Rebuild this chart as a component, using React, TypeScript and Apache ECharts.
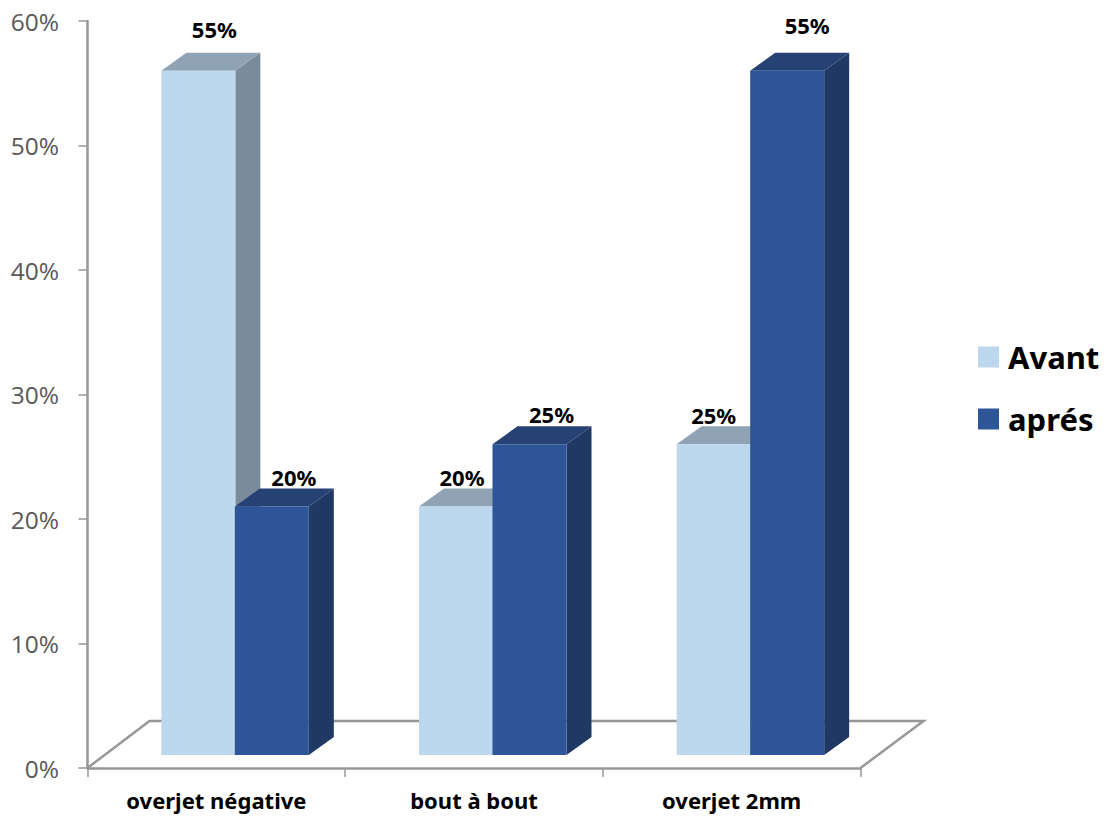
import React, { useEffect, useRef } from "react";
import * as echarts from "echarts";

const categories = ["overjet négative", "bout à bout", "overjet 2mm"];
const avant = [55, 20, 25];
const apres = [20, 25, 55];
const yTicksMax = 60;
const yInterval = 10;

// Manual data-label nudges (dx from the bar's front centre, dy above the bar's back edge)
const avantLabelNudge = [[16, -24], [6, -12], [0, -11]];
const apresLabelNudge = [[22, -12], [22, -12], [20, -28]];

const FONT = "'Noto Sans', sans-serif";
const AXIS = "#979797";
const BAR_W = 74;
const DX = 25;
const DY = 18;
const LIFT = 13;

function makeBar(offset: number, front: string, top: string, side: string, nudges: number[][]) {
  return (params: any, api: any) => {
    const idx = api.value(0);
    const val = api.value(1);
    const center = api.coord([idx, 0]);
    const head = api.coord([idx, val]);
    const x0 = center[0] + offset;
    const x1 = x0 + BAR_W;
    const yB = center[1] - LIFT;
    const yT = head[1] - LIFT + 0.5;
    const n = nudges[idx];
    return {
      type: "group",
      children: [
        {
          type: "polygon",
          shape: { points: [[x1, yT], [x1 + DX, yT - DY], [x1 + DX, yB - DY], [x1, yB]] },
          style: { fill: side },
        },
        {
          type: "polygon",
          shape: { points: [[x0, yT], [x0 + DX, yT - DY], [x1 + DX, yT - DY], [x1, yT]] },
          style: { fill: top },
        },
        {
          type: "rect",
          shape: { x: x0, y: yT, width: BAR_W, height: yB - yT },
          style: { fill: front },
        },
        {
          type: "text",
          z2: 50,
          style: {
            x: x0 + BAR_W / 2 + n[0],
            y: yT - DY + n[1],
            text: val + "%",
            fill: "#000000",
            font: `bold 22px ${FONT}`,
            align: "center",
            verticalAlign: "middle",
          },
        },
      ],
    };
  };
}

function renderFloor(params: any) {
  const c = params.coordSys;
  const l = c.x;
  const r = c.x + c.width;
  const b = c.y + c.height;
  return {
    type: "polyline",
    shape: { points: [[l, b], [l + 62, b - 47], [r + 63, b - 47], [r, b]] },
    style: { stroke: AXIS, lineWidth: 2.5, fill: "none" },
  };
}

export default function App() {
  const ref = useRef<HTMLDivElement>(null);
  useEffect(() => {
    const chart = echarts.init(ref.current!, undefined, { renderer: "svg" });
    chart.setOption({
      animation: false,
      backgroundColor: "#ffffff",
      grid: { left: 87.5, top: 21, width: 773, height: 747, containLabel: false },
      legend: {
        orient: "vertical",
        left: 978,
        top: 337,
        padding: 0,
        data: [{ name: "Avant" }, { name: "aprés" }],
        icon: "rect",
        itemWidth: 21,
        itemHeight: 21,
        itemGap: 22,
        selectedMode: false,
        textStyle: {
          fontFamily: FONT,
          fontWeight: "bold",
          fontSize: 31,
          color: "#000000",
          lineHeight: 40,
          padding: [0, 0, 0, 4],
        },
      },
      xAxis: {
        type: "category",
        data: categories,
        boundaryGap: true,
        axisLine: { lineStyle: { color: AXIS, width: 2.5 } },
        axisTick: { show: true, length: 9, alignWithLabel: false, lineStyle: { color: AXIS, width: 1.5 } },
        axisLabel: {
          margin: 21,
          fontFamily: FONT,
          fontWeight: "bold",
          fontSize: 22,
          color: "#000000",
        },
        splitLine: { show: false },
      },
      yAxis: {
        type: "value",
        min: 0,
        max: yTicksMax,
        interval: yInterval,
        axisLine: { show: true, lineStyle: { color: AXIS, width: 2.5 } },
        axisTick: { show: true, length: 9, lineStyle: { color: AXIS, width: 1.5 } },
        axisLabel: {
          margin: 28.5,
          formatter: "{value}%",
          fontFamily: "'Open Sans', sans-serif",
          fontSize: 24.5,
          color: "#595959",
        },
        splitLine: { show: false },
      },
      series: [
        {
          type: "custom",
          name: "floor",
          z: 1,
          silent: true,
          renderItem: renderFloor,
          data: [[0, 0]],
          encode: { x: 0, y: 1 },
        },
        {
          type: "custom",
          name: "Avant",
          z: 2,
          silent: true,
          itemStyle: { color: "#BDD7EE" },
          renderItem: makeBar(-55, "#BDD7EE", "#8FA3B5", "#7A8B9B", avantLabelNudge),
          data: avant.map((v, i) => [i, v]),
          encode: { x: 0, y: 1 },
        },
        {
          type: "custom",
          name: "aprés",
          z: 3,
          silent: true,
          itemStyle: { color: "#2E5597" },
          renderItem: makeBar(18.5, "#2E5597", "#264173", "#1F3864", apresLabelNudge),
          data: apres.map((v, i) => [i, v]),
          encode: { x: 0, y: 1 },
        },
      ],
    });
    return () => chart.dispose();
  }, []);
  return <div ref={ref} style={{ position: "fixed", left: 0, top: 0, width: 1107, height: 816 }} />;
}
